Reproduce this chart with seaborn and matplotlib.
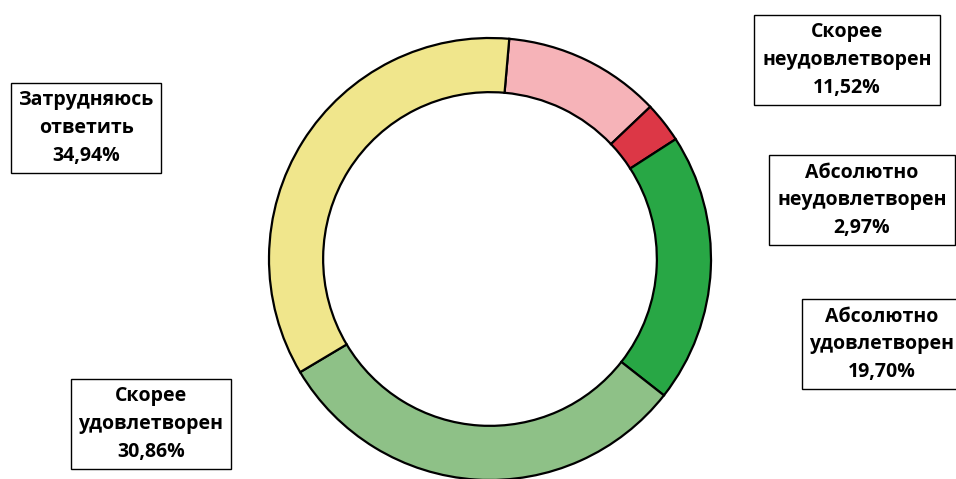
import matplotlib
matplotlib.use("Agg")
import matplotlib.pyplot as plt
import seaborn as sns

# satisfaction survey shares, clockwise from the top
categories = ["Скорее\nнеудовлетворен", "Абсолютно\nнеудовлетворен", "Абсолютно\nудовлетворен",
              "Скорее\nудовлетворен", "Затрудняюсь\nответить"]
shares = [11.52, 2.97, 19.70, 30.86, 34.94]
colors = ["#F6B3B8", "#DC3746", "#28A745", "#8EC187", "#F0E68C"]

# label box centres in pixels (x, y from top)
label_pos = [(847, 60), (862, 200), (882, 344), (151, 424), (86, 128)]

sns.set_style("white")
plt.rcParams["font.family"] = ["Open Sans", "DejaVu Sans"]

W, H = 956, 479
fig = plt.figure(figsize=(W / 100, H / 100), dpi=100)
cx, cy, r = 490, 259, 221
ax = fig.add_axes([(cx - r) / W, (H - cy - r) / H, 2 * r / W, 2 * r / H])

ax.pie(shares, colors=colors, startangle=85, counterclock=False, radius=1,
       wedgeprops=dict(width=0.245, edgecolor="black", linewidth=1.6))
ax.set_xlim(-1, 1)
ax.set_ylim(-1, 1)
ax.set_aspect("equal")
ax.axis("off")

for cat, val, (px, py) in zip(categories, shares, label_pos):
    txt = f"{cat}\n{val:.2f}%".replace(".", ",")
    fig.text(px / W, 1 - py / H, txt, ha="center", va="center", fontsize=14,
             fontweight="bold", linespacing=1.5, color="black",
             bbox=dict(boxstyle="square,pad=0.4", facecolor="white",
                       edgecolor="black", linewidth=1.0))

fig.savefig("out.png", dpi=100)
